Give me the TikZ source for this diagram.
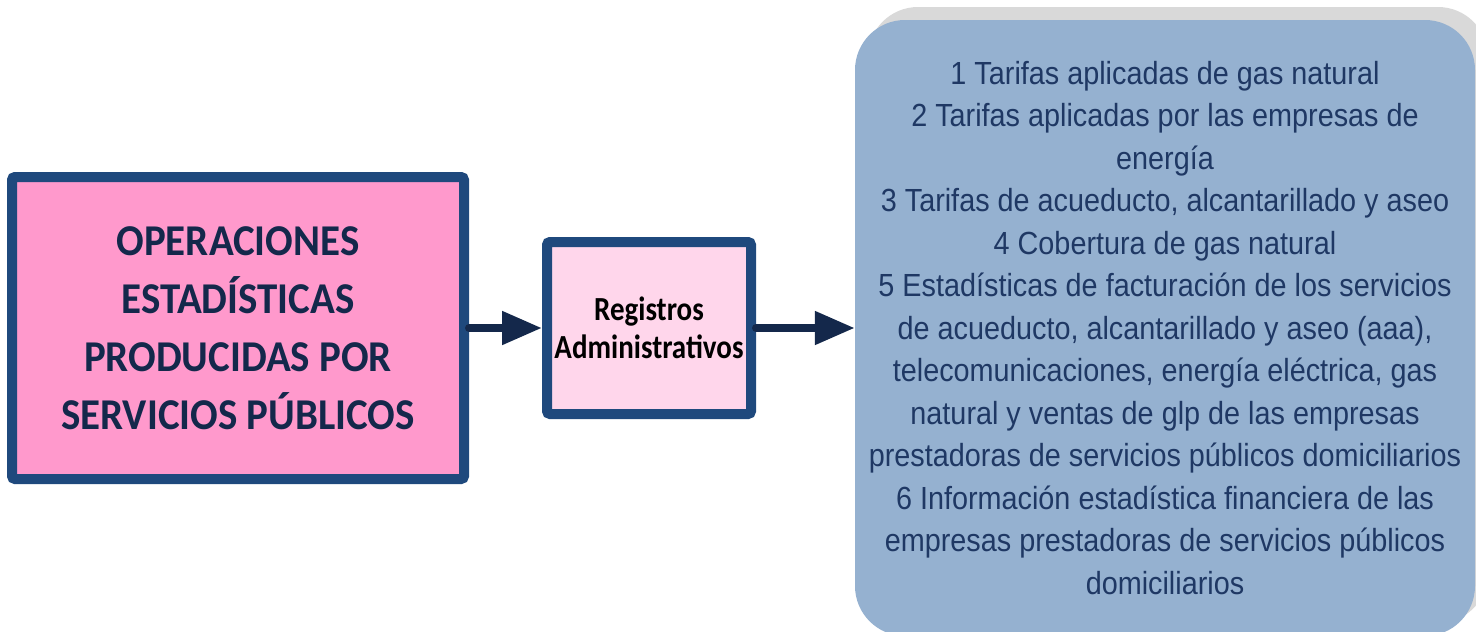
\documentclass[tikz,border=0pt]{standalone}
\usepackage{fontspec}
\usetikzlibrary{arrows.meta,shadows}
\newfontfamily\calA[FakeStretch=0.93]{Carlito}
\newfontfamily\calB[FakeStretch=0.86]{Carlito}
\newfontfamily\arlA[FakeStretch=0.9]{Liberation Sans}
\definecolor{boxborder}{HTML}{1F497D}
\definecolor{pinkfill}{HTML}{FF99CC}
\definecolor{lightpink}{HTML}{FFD6EB}
\definecolor{bluefill}{HTML}{95B1D0}
\definecolor{shadowgray}{HTML}{D9D9D9}
\definecolor{navy}{HTML}{14284B}
\definecolor{righttext}{HTML}{1F3864}
\tikzset{
  bigbox/.style={draw=boxborder, line width=10pt, fill=pinkfill, rounded corners=3pt,
    minimum width=452pt, minimum height=302pt, align=center, text=navy,
    font=\calA\bfseries\fontsize{44pt}{58pt}\selectfont},
  midbox/.style={draw=boxborder, line width=10pt, fill=lightpink, rounded corners=3pt,
    minimum width=204pt, minimum height=172pt, align=center, text=black,
    font=\calB\bfseries\fontsize{33.7pt}{38pt}\selectfont},
  listbox/.style={fill=bluefill, rounded corners=50pt, minimum width=620pt, minimum height=616pt,
    align=center, text=righttext, font=\arlA\fontsize{32pt}{42.5pt}\selectfont,
    general shadow={fill=shadowgray, shadow xshift=13pt, shadow yshift=13pt}},
  flow/.style={draw=navy, line width=8pt, line cap=round, -{Triangle[length=40pt,width=32pt]}}
}
\begin{document}
\begin{tikzpicture}[x=1pt,y=-1pt]
\useasboundingbox (0,0) rectangle (1476,632);
\clip (0,0) rectangle (1476,632);
\node[bigbox] (ops) at (238,328) {OPERACIONES\\ESTADÍSTICAS\\PRODUCIDAS POR\\SERVICIOS PÚBLICOS};
\node[midbox] (reg) at (649,328) {Registros\\Administrativos};
\node[listbox] (list) at (1165,328) {1 Tarifas aplicadas de gas natural\\
2 Tarifas aplicadas por las empresas de\\
energía\\
3 Tarifas de acueducto, alcantarillado y aseo\\
4 Cobertura de gas natural\\
5 Estadísticas de facturación de los servicios\\
de acueducto, alcantarillado y aseo (aaa),\\
telecomunicaciones, energía eléctrica, gas\\
natural y ventas de glp de las empresas\\
prestadoras de servicios públicos domiciliarios\\
6 Información estadística financiera de las\\
empresas prestadoras de servicios públicos\\
domiciliarios};
\draw[flow] (ops.east) -- (reg.west);
\draw[flow] (reg.east) -- (list.west);
\end{tikzpicture}
\end{document}
